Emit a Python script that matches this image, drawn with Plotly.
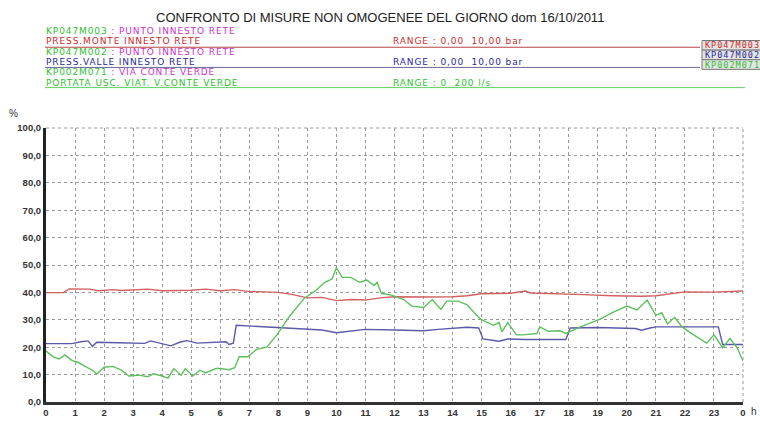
import plotly.graph_objects as go

# ---------------- data ----------------
hours_ticks = list(range(25))
hour_labels = [str(h) for h in range(24)] + ["0"]

press_monte_t = [0, 0.6, 0.8, 1.5, 1.8, 2.3, 2.6, 3.5, 4, 5, 5.5, 6, 6.5, 7, 7.5, 8, 8.5, 9, 9.5, 10,
                 10.5, 11, 11.5, 12, 13, 14, 14.5, 15, 16, 16.5, 16.7, 17, 18, 18.5, 19.5, 20.5, 21,
                 21.5, 22, 23, 23.5, 24]
press_monte_v = [39.9, 39.9, 41.3, 41.2, 40.6, 41.0, 40.7, 41.2, 40.6, 40.8, 41.2, 40.6, 41.0, 40.3,
                 40.2, 40.0, 39.2, 38.0, 38.2, 37.0, 37.4, 37.2, 38.0, 38.4, 38.3, 38.4, 38.8, 39.5,
                 39.7, 40.5, 39.8, 39.7, 39.6, 39.2, 38.8, 38.6, 38.8, 39.5, 40.2, 40.1, 40.3, 40.5]

press_valle_t = [0, 0.9, 1.2, 1.45, 1.6, 1.75, 2.5, 3.4, 3.6, 4.0, 4.3, 4.6, 4.85, 5.2, 6.2, 6.3,
                 6.45, 6.55, 7.5, 8.5, 9.5, 10.0, 10.5, 11.0, 12, 13, 13.5, 14, 14.5, 14.9, 15.05,
                 15.6, 15.9, 16.5, 17.9, 18.05, 19, 20.3, 20.5, 20.8, 21, 23.15, 23.3, 24]
press_valle_v = [21.3, 21.3, 22.0, 22.3, 20.3, 21.8, 21.6, 21.4, 22.3, 21.3, 20.5, 21.8, 22.4, 21.5,
                 22.0, 21.0, 21.5, 28.0, 27.5, 26.8, 26.3, 25.3, 26.0, 26.5, 26.3, 26.0, 26.5, 27.0,
                 27.3, 27.0, 23.0, 22.2, 23.0, 22.8, 22.8, 27.0, 27.2, 26.8, 26.2, 27.0, 27.4, 27.4,
                 21.0, 21.0]

portata_t = [0, 0.25, 0.45, 0.65, 0.9, 1.1, 1.3, 1.6, 1.75, 2.0, 2.3, 2.6, 2.85, 3.2, 3.5, 3.7, 4.0,
             4.2, 4.4, 4.65, 4.8, 5.05, 5.3, 5.5, 5.85, 6.0, 6.3, 6.5, 6.65, 6.95, 7.25, 7.6, 7.95,
             8.4, 8.9, 9.3, 9.6, 9.85, 10.0, 10.2, 10.5, 10.8, 11.05, 11.3, 11.4, 11.55, 11.9, 12.3,
             12.6, 13.0, 13.3, 13.6, 13.8, 14.2, 14.5, 14.95, 15.4, 15.6, 15.7, 15.9, 16.2, 16.4,
             16.9, 17.0, 17.3, 17.7, 17.9, 18.4, 19.1, 19.5, 20.0, 20.35, 20.7, 21.0, 21.2, 21.4,
             21.65, 21.9, 22.3, 22.75, 23.0, 23.3, 23.55, 23.8, 24]
portata_v = [18.6, 16.5, 15.7, 17.2, 15.1, 14.5, 13.3, 11.6, 10.2, 12.7, 13.0, 11.6, 9.5, 9.8, 9.2,
             10.3, 9.5, 8.7, 12.2, 9.8, 12.2, 9.5, 11.6, 10.6, 12.2, 12.2, 11.8, 12.5, 16.5, 16.5,
             19.2, 20.0, 24.5, 31.5, 37.9, 40.8, 43.7, 44.9, 49.0, 45.5, 45.5, 43.7, 44.5, 42.5,
             43.7, 39.6, 39.0, 37.5, 35.0, 34.5, 37.3, 33.8, 36.8, 36.8, 35.5, 30.3, 28.0, 29.0,
             25.6, 29.0, 24.5, 24.5, 25.0, 27.4, 25.8, 26.0, 25.0, 27.4, 30.3, 32.6, 35.0, 33.6,
             37.2, 31.6, 32.6, 28.5, 30.9, 27.4, 24.5, 21.5, 24.5, 19.8, 23.2, 19.8, 15.0]

title_text = "CONFRONTO DI MISURE NON OMOGENEE DEL GIORNO dom 16/10/2011"
codes = ["KP047M003", "KP047M002", "KP002M071"]
places = [" : PUNTO INNESTO RETE", " : PUNTO INNESTO RETE", " : VIA CONTE VERDE"]
measures = ["PRESS.MONTE INNESTO RETE", "PRESS.VALLE INNESTO RETE", "PORTATA USC. VIAT. V.CONTE VERDE"]
ranges = ["RANGE : 0,00  10,00 bar", "RANGE : 0,00  10,00 bar", "RANGE : 0  200 l/s"]

# ---------------- layout helpers ----------------
W, H = 760, 430
L, R, T, B = 46, 743, 128, 413


def px(x):
    return (x - L) / (R - L)


def py(y):
    return (B - y) / (B - T)


RED = "#cc2b2b"
BLUE = "#2a2a9a"
GREEN = "#2fbf2f"
MAGENTA = "#cc33cc"
line_colors = ["#d06060", "#5a5aa8", "#5cc05c"]

fig = go.Figure()
for t, v, c in [(press_monte_t, press_monte_v, line_colors[0]),
                (press_valle_t, press_valle_v, line_colors[1]),
                (portata_t, portata_v, line_colors[2])]:
    fig.add_trace(go.Scatter(x=t, y=v, mode="lines", line=dict(color=c, width=1.4),
                             showlegend=False, hoverinfo="skip"))

FONT = "Liberation Sans, Arial, sans-serif"
HFONT = "DejaVu Sans, sans-serif"
SP = "letter-spacing:0.9px"
ann = []
shapes = []

# title
ann.append(dict(text=title_text, x=px(380), y=py(13), xref="paper", yref="paper",
                xanchor="center", yanchor="middle", showarrow=False,
                font=dict(family=FONT, size=13, color="#222")))

row_y = [[27, 37.8], [48.6, 59.4], [70.2, 81]]
meas_colors = [RED, BLUE, GREEN]
line_y = [44, 65, 86]
line_end = [700, 700, 745]
line_col = ["#b84444", "#6a6a9a", "#66cc66"]
HS = 9
for i in range(3):
    ann.append(dict(text=f"<span style='color:{GREEN};{SP}'>{codes[i]}</span>"
                         f"<span style='color:{MAGENTA};{SP}'>{places[i]}</span>",
                    x=px(45), y=py(row_y[i][0]), xref="paper", yref="paper",
                    xanchor="left", yanchor="middle", showarrow=False, borderpad=0,
                    font=dict(family=HFONT, size=HS)))
    ann.append(dict(text=f"<span style='{SP}'>{measures[i]}</span>",
                    x=px(45), y=py(row_y[i][1]), xref="paper", yref="paper",
                    xanchor="left", yanchor="middle", showarrow=False, borderpad=0,
                    font=dict(family=HFONT, size=HS, color=meas_colors[i])))
    ann.append(dict(text=f"<span style='{SP}'>{ranges[i]}</span>",
                    x=px(392), y=py(row_y[i][1]), xref="paper", yref="paper",
                    xanchor="left", yanchor="middle", showarrow=False, borderpad=0,
                    font=dict(family=HFONT, size=HS, color=meas_colors[i])))
    shapes.append(dict(type="line", xref="paper", yref="paper", x0=px(45), x1=px(line_end[i]),
                       y0=py(line_y[i]), y1=py(line_y[i]),
                       line=dict(color=line_col[i], width=1)))

# code boxes on the right
box_y = [42, 52, 62]
for i in range(3):
    shapes.append(dict(type="rect", xref="paper", yref="paper", x0=px(702), x1=px(765),
                       y0=py(box_y[i] - 5), y1=py(box_y[i] + 5),
                       fillcolor="#e4e4e4", line=dict(color="#777", width=1)))
    ann.append(dict(text=f"<span style='letter-spacing:1px'>{codes[i]}</span>",
                    x=px(704), y=py(box_y[i]), xref="paper", yref="paper",
                    xanchor="left", yanchor="middle", showarrow=False, borderpad=0,
                    font=dict(family="DejaVu Sans Mono, monospace", size=8.5,
                              color=meas_colors[i])))

# axis unit labels
ann.append(dict(text="%", x=px(13), y=py(113), xref="paper", yref="paper",
                xanchor="center", yanchor="middle", showarrow=False,
                font=dict(family=FONT, size=10, color="#333")))
ann.append(dict(text="h", x=px(754), y=py(423), xref="paper", yref="paper",
                xanchor="center", yanchor="middle", showarrow=False,
                font=dict(family=FONT, size=10, color="#333")))

# top and right dotted borders
shapes.append(dict(type="line", xref="paper", yref="paper", x0=0, x1=1, y0=1, y1=1,
                   line=dict(color="#999", width=1, dash="dot")))
shapes.append(dict(type="line", xref="paper", yref="paper", x0=1, x1=1, y0=0, y1=1,
                   line=dict(color="#999", width=1, dash="dot")))

TICKFONT = dict(family="Liberation Sans, Arial, sans-serif", size=9.5, color="#333",
                weight="bold")

fig.update_layout(
    width=W, height=H,
    margin=dict(l=L, r=W - R, t=T, b=H - B, pad=0),
    paper_bgcolor="white", plot_bgcolor="white",
    separators=",.",
    annotations=ann, shapes=shapes,
    xaxis=dict(range=[0, 24], tickvals=hours_ticks, ticktext=hour_labels,
               showgrid=True, gridcolor="#999", griddash="dot", gridwidth=1,
               showline=True, linecolor="#333", linewidth=3, zeroline=False,
               ticks="", tickfont=TICKFONT),
    yaxis=dict(range=[0, 100], dtick=10, tickformat=".1f",
               showgrid=True, gridcolor="#999", griddash="dot", gridwidth=1,
               showline=True, linecolor="#222", linewidth=3, zeroline=False,
               ticks="", tickfont=TICKFONT),
)

fig.write_html("out.html", config={"displayModeBar": False},
               post_script="document.body.style.margin='0';document.body.style.overflow='hidden';")
